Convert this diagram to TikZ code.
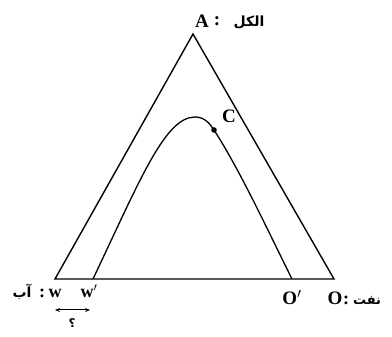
\documentclass[tikz,border=0pt]{standalone}
\usepackage{fontspec}
\setmainfont{Liberation Serif}
\newfontfamily\arabicfont[Script=Arabic]{DejaVu Sans}
\TeXXeTstate=1
\usetikzlibrary{arrows.meta}
\tikzset{
  lbl/.style={inner sep=0pt, font=\fontsize{19}{22}\selectfont\bfseries},
  wlbl/.style={inner sep=0pt, anchor=base, font=\fontsize{18}{22}\selectfont\bfseries},
  ar/.style={inner sep=0pt, anchor=base, font=\arabicfont\fontsize{14}{17}\selectfont\bfseries},
  edge/.style={line width=1.4pt, line join=miter},
}
\begin{document}
\begin{tikzpicture}[x=1pt,y=-1pt]
\useasboundingbox (0,0) rectangle (392,337);
% vertices
\coordinate (Av) at (193,34);
\coordinate (Wv) at (55,279);
\coordinate (Ov) at (334,279);
\coordinate (Wp) at (93,279);
\coordinate (Op) at (292,279);
\coordinate (Cv) at (214,130);
\coordinate (Pk) at (195,117);
% triangle
\draw[edge] (Wv) -- (Av) -- (Ov) -- cycle;
% curve
\draw[line width=1.3pt] (Wp) .. controls (140,180) and (165,117) .. (Pk)
  .. controls (205,117) and (210,124) .. (Cv)
  .. controls (240,170) and (270,235) .. (Op);
\fill (Cv) circle (2.8);
% labels
\node[lbl] (A) at (202,21) {A};
\node[lbl] (Acol) at (217,21) {:};
\node[ar] (alc) at (249,27) {\beginR الکل\endR};
\node[lbl] (C) at (229,116) {C};
\node[wlbl] (W) at (55,298) {w};
\node[wlbl] (Wpr) at (89,298) {w$'$};
\node[wlbl] (Wcol) at (42,298) {:};
\node[ar] (ab) at (22,298) {\beginR آب\endR};
\node[wlbl, font=\fontsize{19}{22}\selectfont\bfseries] (Opr) at (292,305) {O$'$};
\node[wlbl, font=\fontsize{19}{22}\selectfont\bfseries] (O) at (335,305) {O};
\node[wlbl] (Ocol) at (346,305) {:};
\node[ar, font=\arabicfont\fontsize{13}{16}\selectfont\bfseries] (naft) at (367,305) {\beginR نفت\endR};
% arrow
\coordinate (arL) at (55,310);
\coordinate (arR) at (90,310);
\draw[line width=1pt, {Stealth[length=5pt,width=4pt]}-{Stealth[length=5pt,width=4pt]}] (arL) -- (arR);
\node[ar, font=\arabicfont\fontsize{12}{14}\selectfont\bfseries] (q) at (72,328) {؟};
\end{tikzpicture}
\end{document}
